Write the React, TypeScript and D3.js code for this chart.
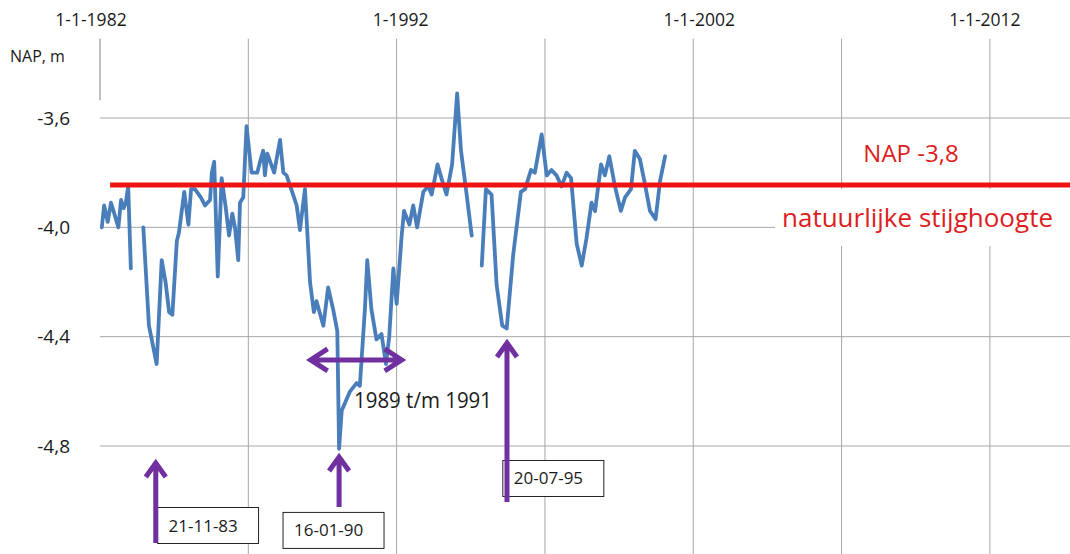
import React from "react";
import * as d3 from "d3";

// ---- data ----
const dates: number[] = [
  1982.06, 1982.14, 1982.26, 1982.37, 1982.51, 1982.62, 1982.71, 1982.8, 1982.87, 1982.95, 1983.04,
  1983.25,
  1983.46, 1983.65, 1983.91, 1984.08, 1984.21, 1984.33, 1984.44, 1984.59, 1984.66, 1984.84, 1984.98,
  1985.07, 1985.2, 1985.4, 1985.54, 1985.71, 1985.77, 1985.85, 1985.97, 1986.1, 1986.23, 1986.35,
  1986.46, 1986.55, 1986.66, 1986.72, 1986.83, 1986.94, 1987.11, 1987.3, 1987.42, 1987.5, 1987.56,
  1987.64, 1987.87, 1988.07, 1988.18, 1988.29, 1988.51, 1988.63, 1988.74, 1988.91, 1989.08, 1989.21,
  1989.3, 1989.53, 1989.69, 1989.86, 1990.0, 1990.06, 1990.15, 1990.43, 1990.65, 1990.76, 1990.93,
  1991.01, 1991.15, 1991.32, 1991.49, 1991.64, 1991.75, 1991.89, 1992.0, 1992.17, 1992.25, 1992.43,
  1992.56, 1992.69, 1992.9, 1993.07, 1993.18, 1993.38, 1993.51, 1993.68, 1993.87, 1994.04, 1994.17,
  1994.36, 1994.53,
  1994.7,
  1994.87, 1995.01, 1995.2, 1995.37, 1995.56, 1995.71, 1995.93, 1996.19, 1996.33, 1996.53, 1996.66,
  1996.89, 1997.06, 1997.22, 1997.39, 1997.56, 1997.73, 1997.88, 1998.07, 1998.24, 1998.4, 1998.57,
  1998.69, 1998.89, 1999.02, 1999.17, 1999.36, 1999.56, 1999.7, 1999.9, 2000.03, 2000.2, 2000.35,
  2000.54, 2000.73, 2000.88, 2001.05,
];
const levels: (number | null)[] = [
  -4.0, -3.92, -3.98, -3.91, -3.96, -4.0, -3.9, -3.93, -3.91, -3.85, -4.15,
  null,
  -4.0, -4.36, -4.5, -4.12, -4.2, -4.31, -4.32, -4.05, -4.02, -3.87, -3.99,
  -3.86, -3.86, -3.89, -3.92, -3.9, -3.8, -3.76, -4.18, -3.82, -3.92, -4.03,
  -3.95, -4.0, -4.12, -3.91, -3.89, -3.63, -3.8, -3.8, -3.75, -3.72, -3.81,
  -3.73, -3.8, -3.68, -3.8, -3.81, -3.88, -3.92, -4.01, -3.86, -4.2, -4.31,
  -4.27, -4.36, -4.22, -4.3, -4.38, -4.81, -4.67, -4.6, -4.57, -4.58, -4.3,
  -4.12, -4.3, -4.41, -4.39, -4.5, -4.4, -4.15, -4.28, -4.03, -3.94, -3.99,
  -3.92, -4.0, -3.87, -3.85, -3.88, -3.77, -3.82, -3.88, -3.77, -3.51, -3.72,
  -3.88, -4.03,
  null,
  -4.14, -3.86, -3.88, -4.21, -4.36, -4.37, -4.1, -3.87, -3.86, -3.79, -3.8,
  -3.66, -3.81, -3.79, -3.81, -3.85, -3.8, -3.82, -4.06, -4.14, -4.04, -3.91,
  -3.94, -3.77, -3.81, -3.74, -3.85, -3.94, -3.89, -3.86, -3.72, -3.75, -3.83,
  -3.94, -3.97, -3.83, -3.74,
];

const xTickDates = [1982, 1992, 2002, 2012];
const xTickLabels = ["1-1-1982", "1-1992", "1-1-2002", "1-1-2012"];
const xGridDates = [1987, 1992, 1997, 2002, 2007, 2012];
const yTicks = [-3.6, -4.0, -4.4, -4.8];
const yGrid = [-3.6, -4.0, -4.4, -4.8, -5.2];
const yTickLabels = ["-3,6", "-4,0", "-4,4", "-4,8"];

const referenceLevel = -3.845; // drawn "NAP -3,8" line
const referenceStart = 1982.34;

const annoLabels = ["21-11-83", "16-01-90", "20-07-95"];
const annoArrowDates = [1983.88, 1990.06, 1995.72];
const annoArrowTips = [-4.862, -4.84, -4.423];
const annoArrowTails = [-5.155, -5.023, -5.005];
const annoBoxDates = [1983.94, 1988.17, 1995.58];
const annoBoxTops = [-5.025, -5.043, -4.853];

const periodStart = 1989.1;
const periodEnd = 1992.17;
const periodLevel = -4.485;

export default function App() {
  const W = 1070;
  const H = 554;
  const x = d3.scaleLinear().domain([1982, 2014.7]).range([100, 1070]);
  const y = d3.scaleLinear().domain([-3.6, -4.8]).range([118, 446]);
  const top = y(-3.31);

  const pts = dates.map((d, i) => ({ d, v: levels[i] }));
  const line = d3
    .line<{ d: number; v: number | null }>()
    .defined((p) => p.v !== null)
    .x((p) => x(p.d))
    .y((p) => y(p.v as number));

  const font = "'Open Sans', 'Liberation Sans', sans-serif";
  const purple = "#7030A0";
  const grid = "#a6a6a6";
  const red = "#ee1414";
  const redText = "#dc1e1e";
  const textCol = "#1a1a1a";

  // small label nudges seen in the original layout
  const xLabelShift = [-9, 4, 6, -5];

  const upArrow = (xx: number, y1: number, y2: number) =>
    `M${xx},${y2} L${xx},${y1} M${xx - 10},${y1 + 14} L${xx},${y1} L${xx + 10},${y1 + 14}`;

  const pxL = x(periodStart);
  const pxR = x(periodEnd);
  const py = y(periodLevel);

  return (
    <svg
      width={W}
      height={H}
      style={{ position: "absolute", left: 0, top: 0, background: "#fff" }}
      fontFamily={font}
    >
      {/* gridlines */}
      {xGridDates.map((d) => (
        <line key={"vx" + d} x1={x(d)} x2={x(d)} y1={top} y2={H} stroke={grid} strokeWidth={1} />
      ))}
      {yGrid.map((v) => (
        <line key={"hy" + v} x1={100} x2={W} y1={y(v)} y2={y(v)} stroke={grid} strokeWidth={1} />
      ))}
      {/* axis stub */}
      <line x1={x(1982)} x2={x(1982)} y1={top} y2={y(-3.535)} stroke="#7f7f7f" strokeWidth={1} />

      {/* x labels */}
      {xTickDates.map((d, i) => (
        <text
          key={"xt" + d}
          x={x(d) + xLabelShift[i]}
          y={26}
          textAnchor="middle"
          fontSize={17.5}
          fill={textCol}
        >
          {xTickLabels[i]}
        </text>
      ))}
      {/* y labels */}
      <text x={10} y={62} fontSize={16} fill={textCol}>
        NAP, m
      </text>
      {yTicks.map((v, i) => (
        <text key={"yt" + v} x={70} y={y(v)} dy="0.35em" textAnchor="end" fontSize={19} fill={textCol}>
          {yTickLabels[i]}
        </text>
      ))}

      {/* data line */}
      <path
        d={line(pts) || ""}
        fill="none"
        stroke="#4a7ebb"
        strokeWidth={3.8}
        strokeLinejoin="round"
        strokeLinecap="round"
      />

      {/* reference line */}
      <line x1={x(referenceStart)} x2={W} y1={y(referenceLevel)} y2={y(referenceLevel)} stroke={red} strokeWidth={5} />
      <text x={911} y={162} textAnchor="middle" fontSize={24} fill={redText}>
        NAP -3,8
      </text>
      <rect x={775} y={189} width={W - 775} height={57} fill="#fff" />
      <text x={782} y={227} fontSize={25} fill={redText} textLength={271} lengthAdjust="spacingAndGlyphs">
        natuurlijke stijghoogte
      </text>

      {/* period arrow */}
      <path
        d={`M${pxL},${py} L${pxR},${py} M${pxL + 17},${py - 11} L${pxL},${py} L${pxL + 17},${py + 11} M${pxR - 17},${py - 11} L${pxR},${py} L${pxR - 17},${py + 11}`}
        fill="none"
        stroke={purple}
        strokeWidth={5}
        strokeLinejoin="miter"
      />
      <text x={354} y={408} fontSize={21} fill={textCol} textLength={138} lengthAdjust="spacingAndGlyphs">
        1989 t/m 1991
      </text>

      {/* annotations */}
      {annoLabels.map((lab, i) => {
        const bx = x(annoBoxDates[i]);
        const by = y(annoBoxTops[i]);
        const ax = x(annoArrowDates[i]);
        return (
          <g key={lab}>
            <rect x={bx} y={by} width={101} height={36} fill="#fff" stroke="#222" strokeWidth={1} />
            <text x={bx + 11} y={by + 24} fontSize={17} fill={textCol}>
              {lab}
            </text>
            <path
              d={upArrow(ax, y(annoArrowTips[i]), y(annoArrowTails[i]))}
              fill="none"
              stroke={purple}
              strokeWidth={5}
            />
          </g>
        );
      })}
    </svg>
  );
}
